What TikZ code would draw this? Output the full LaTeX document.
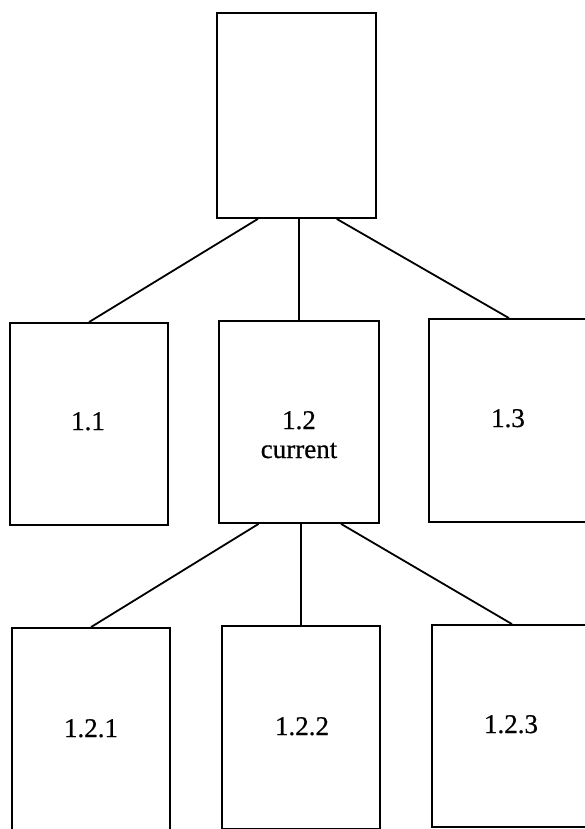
\documentclass[tikz,border=0pt]{standalone}
\usepackage{fontspec}
\setmainfont{Liberation Serif}
\newfontfamily\lblfont[FakeBold=0.6]{Liberation Serif}
\usetikzlibrary{calc}
\begin{document}
\begin{tikzpicture}[x=1pt,y=-1pt,
  box/.style={draw, line width=1.8pt, rectangle, inner sep=0pt},
  link/.style={line width=1.8pt},
  lbl/.style={font=\lblfont\fontsize{27}{31}\selectfont, anchor=base, inner sep=0pt}]
\useasboundingbox (0,0) rectangle (584,829);

% boxes of the tree
\node[box, minimum width=159pt, minimum height=205pt] (top)  at (296.5,115.5) {};
\node[box, minimum width=158pt, minimum height=202pt] (n11)  at (89,424) {};
\node[box, minimum width=160pt, minimum height=202pt] (n12)  at (299,422) {};
\node[box, minimum width=160pt, minimum height=203pt] (n13)  at (509,420.5) {};
\node[box, minimum width=158pt, minimum height=202pt] (n121) at (91,729) {};
\node[box, minimum width=158pt, minimum height=203pt] (n122) at (301,727.5) {};
\node[box, minimum width=160pt, minimum height=202pt] (n123) at (512,726) {};

% labels
\node[lbl] (t11)  at (88,430)  {1.1};
\node[lbl] (t12)  at (299,429) {1.2};
\node[lbl] (tcur) at (299,458) {current};
\node[lbl] (t13)  at (508,427) {1.3};
\node[lbl] (t121) at (91,737)  {1.2.1};
\node[lbl] (t122) at (302,735) {1.2.2};
\node[lbl] (t123) at (511,733) {1.2.3};

% connectors
\draw[link] ($(top.south west)!0.26!(top.south east)$) -- (n11.north);
\draw[link] (n12.north |- top.south) -- (n12.north);
\draw[link] ($(top.south west)!0.75!(top.south east)$) -- (n13.north);
\draw[link] ($(n12.south west)!0.25!(n12.south east)$) -- (n121.north);
\draw[link] (n122.north |- n12.south) -- (n122.north);
\draw[link] ($(n12.south west)!0.76!(n12.south east)$) -- (n123.north);
\end{tikzpicture}
\end{document}
